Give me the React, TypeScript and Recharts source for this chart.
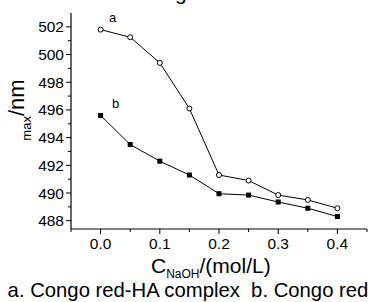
import React from 'react';
import { LineChart, Line, XAxis, YAxis } from 'recharts';

const concentrations = [0, 0.05, 0.1, 0.15, 0.2, 0.25, 0.3, 0.35, 0.4];
const complexLambda = [501.8, 501.25, 499.4, 496.1, 491.3, 490.9, 489.85, 489.5, 488.9];
const congoRedLambda = [495.6, 493.5, 492.3, 491.3, 489.95, 489.85, 489.35, 488.9, 488.3];

const xTicks = [-0.05, 0, 0.05, 0.1, 0.15, 0.2, 0.25, 0.3, 0.35, 0.4, 0.45];
const xTickLabels = ['', '0.0', '', '0.1', '', '0.2', '', '0.3', '', '0.4', ''];
const yTicks = [488, 489, 490, 491, 492, 493, 494, 495, 496, 497, 498, 499, 500, 501, 502];
const yTickLabels = ['488', '', '490', '', '492', '', '494', '', '496', '', '498', '', '500', '', '502'];

const seriesALabel = 'a';
const seriesBLabel = 'b';
const caption = 'a. Congo red-HA complex  b. Congo red';

const data = concentrations.map((c, i) => ({ c, a: complexLambda[i], b: congoRedLambda[i] }));

const FONT = '"Liberation Sans", Arial, sans-serif';

const YTick = (props: any) => {
  const { x, y, index } = props;
  const label = yTickLabels[index];
  const len = label ? 5 : 3;
  return (
    <g>
      <line x1={x} x2={x - len} y1={y} y2={y} stroke="#000" strokeWidth={1} />
      {label && (
        <text x={x - 7} y={y} textAnchor="end" dominantBaseline="central" fontSize={15.5} fontFamily={FONT} fill="#000">
          {label}
        </text>
      )}
    </g>
  );
};

const XTick = (props: any) => {
  const { x, y, index } = props;
  const label = xTickLabels[index];
  const len = label ? 5 : 3;
  return (
    <g>
      <line x1={x} x2={x} y1={y} y2={y + len} stroke="#000" strokeWidth={1} />
      {label && (
        <text x={x} y={y + 20} textAnchor="middle" fontSize={15.5} fontFamily={FONT} fill="#000">
          {label}
        </text>
      )}
    </g>
  );
};

const CircleDot = (props: any) => {
  const { cx, cy } = props;
  if (cx == null || cy == null) return null;
  return <circle cx={cx} cy={cy} r={2.5} fill="#fff" stroke="#000" strokeWidth={1} />;
};

const SquareDot = (props: any) => {
  const { cx, cy } = props;
  if (cx == null || cy == null) return null;
  return <rect x={cx - 2.5} y={cy - 2.5} width={5} height={5} fill="#000" />;
};

export default function App() {
  return (
    <div style={{ position: 'absolute', left: 0, top: 0, width: 376, height: 302, background: '#fff' }}>
      <LineChart width={376} height={302} data={data} margin={{ top: 13, right: 9, left: 0, bottom: 0 }}>
        <XAxis
          dataKey="c"
          type="number"
          domain={[-0.05, 0.45]}
          ticks={xTicks}
          interval={0}
          height={73}
          tickSize={0}
          tickMargin={0}
          tickLine={false}
          tick={<XTick />}
          axisLine={{ stroke: '#000', strokeWidth: 1.2 }}
          allowDataOverflow
        />
        <YAxis
          type="number"
          domain={[487.4, 503]}
          ticks={yTicks}
          interval={0}
          width={71}
          tickSize={0}
          tickMargin={0}
          tickLine={false}
          tick={<YTick />}
          axisLine={{ stroke: '#000', strokeWidth: 1.2 }}
          allowDataOverflow
        />
        <Line dataKey="a" stroke="#000" strokeWidth={1} dot={<CircleDot />} isAnimationActive={false} />
        <Line dataKey="b" stroke="#000" strokeWidth={1} dot={<SquareDot />} isAnimationActive={false} />
      </LineChart>
      <svg width={376} height={302} style={{ position: 'absolute', left: 0, top: 0, pointerEvents: 'none' }}>
        <text x={175} y={0} fontSize={21} fontFamily={FONT} fill="#000">g</text>
        <text x={109} y={22} fontSize={13} fontFamily={FONT} fill="#000">{seriesALabel}</text>
        <text x={112} y={108} fontSize={13} fontFamily={FONT} fill="#000">{seriesBLabel}</text>
        <text transform="translate(24,110) rotate(-90)" textAnchor="middle" fontFamily={FONT} fill="#000">
          <tspan fontSize={13} dy={7}>max</tspan>
          <tspan fontSize={22} dy={-7}>/nm</tspan>
        </text>
        <text x={151} y={273} fontSize={21} fontFamily={FONT} fill="#000">
          <tspan>C</tspan>
          <tspan fontSize={12} dy={5}>NaOH</tspan>
          <tspan dy={-5}>/(mol/L)</tspan>
        </text>
        <text x={188} y={297} textAnchor="middle" fontSize={20.3} fontFamily={FONT} fill="#000" style={{ whiteSpace: 'pre' }}>{caption}</text>
      </svg>
    </div>
  );
}
